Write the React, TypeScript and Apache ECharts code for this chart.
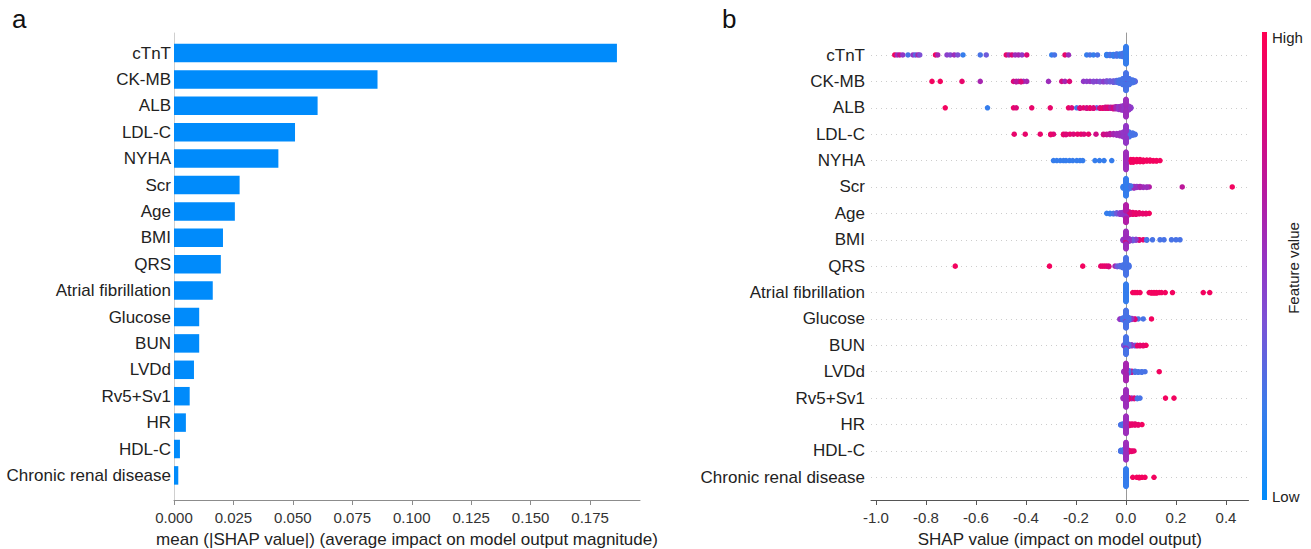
import React, { useEffect, useRef } from "react";
import * as echarts from "echarts";

// ---------------- data ----------------
const features = [
  "cTnT", "CK-MB", "ALB", "LDL-C", "NYHA", "Scr", "Age", "BMI", "QRS",
  "Atrial fibrillation", "Glucose", "BUN", "LVDd", "Rv5+Sv1", "HR", "HDL-C",
  "Chronic renal disease",
];
const meanAbsShap = [
  0.1863, 0.0856, 0.0604, 0.0509, 0.0439, 0.0276, 0.0256, 0.0206, 0.0197,
  0.0163, 0.0106, 0.0106, 0.0084, 0.0066, 0.005, 0.0025, 0.0018,
];
const barTicks = [0, 0.025, 0.05, 0.075, 0.1, 0.125, 0.15, 0.175];
const shapTicks = [-1.0, -0.8, -0.6, -0.4, -0.2, 0.0, 0.2, 0.4];

// beeswarm groups: [SHAP value, normalized feature value (0 low .. 1 high), number of dots]
const cTnT = [
  [-0.925, 0.95, 1], [-0.915, 0.55, 1], [-0.905, 0.75, 1], [-0.893, 0.5, 1], [-0.872, 0.2, 1],
  [-0.852, 0.5, 1], [-0.842, 0.25, 1], [-0.832, 0.6, 1], [-0.825, 0.35, 1],
  [-0.762, 0.95, 1], [-0.753, 0.6, 1],
  [-0.716, 0.45, 1], [-0.703, 0.4, 1], [-0.687, 0.55, 1], [-0.673, 0.35, 1], [-0.652, 0.15, 1],
  [-0.583, 0.2, 1], [-0.559, 0.3, 1],
  [-0.479, 0.9, 1], [-0.468, 0.6, 1], [-0.456, 0.85, 1], [-0.443, 0.55, 1], [-0.43, 0.6, 1],
  [-0.416, 0.5, 1], [-0.397, 0.85, 1],
  [-0.297, 0.15, 1], [-0.286, 0.2, 1],
  [-0.244, 0.9, 1], [-0.23, 0.55, 1],
  [-0.157, 0.15, 1], [-0.144, 0.2, 1], [-0.13, 0.15, 1], [-0.114, 0.2, 1],
  [-0.077, 0.15, 3], [-0.064, 0.2, 3], [-0.05, 0.15, 4], [-0.037, 0.2, 5], [-0.024, 0.15, 5],
  [-0.013, 0.2, 7], [0, 0.15, 34],
];
const ckmb = [
  [-0.776, 0.95, 1], [-0.743, 0.95, 1], [-0.656, 0.9, 1], [-0.583, 0.6, 1],
  [-0.45, 0.85, 1], [-0.439, 0.7, 2], [-0.43, 0.6, 1], [-0.42, 0.85, 2], [-0.41, 0.55, 1], [-0.397, 0.6, 1],
  [-0.31, 0.55, 1],
  [-0.257, 0.8, 1], [-0.244, 0.6, 1], [-0.226, 0.85, 1],
  [-0.17, 0.5, 1], [-0.157, 0.45, 1], [-0.144, 0.5, 1], [-0.13, 0.4, 2], [-0.117, 0.45, 1],
  [-0.104, 0.35, 2], [-0.09, 0.45, 2], [-0.077, 0.35, 3], [-0.064, 0.3, 3], [-0.05, 0.3, 4],
  [-0.037, 0.25, 5], [-0.027, 0.2, 8], [-0.013, 0.2, 14], [0, 0.2, 34], [0, 0.5, 6],
  [0.013, 0.2, 14], [0.027, 0.2, 7], [0.036, 0.25, 3],
];
const alb = [
  [-0.723, 0.95, 1], [-0.554, 0.15, 1], [-0.45, 0.9, 1], [-0.439, 0.85, 1], [-0.377, 0.9, 1], [-0.303, 0.9, 1],
  [-0.23, 0.9, 1], [-0.217, 0.85, 1], [-0.197, 0.2, 1], [-0.184, 0.85, 2], [-0.17, 0.9, 1],
  [-0.157, 0.8, 2], [-0.144, 0.9, 2], [-0.13, 0.85, 2], [-0.117, 0.3, 1], [-0.104, 0.85, 2],
  [-0.093, 0.9, 2], [-0.082, 0.8, 3], [-0.072, 0.85, 3], [-0.061, 0.7, 3], [-0.05, 0.8, 4],
  [-0.04, 0.6, 5], [-0.029, 0.5, 6], [-0.019, 0.55, 8], [-0.009, 0.5, 10], [0, 0.55, 34],
  [0.011, 0.5, 8], [0.019, 0.45, 3],
];
const ldlc = [
  [-0.447, 0.9, 1], [-0.403, 0.9, 1], [-0.343, 0.9, 1], [-0.301, 0.9, 2], [-0.29, 0.85, 1],
  [-0.25, 0.9, 2], [-0.24, 0.85, 2], [-0.224, 0.9, 1], [-0.21, 0.85, 1], [-0.194, 0.9, 1],
  [-0.18, 0.9, 1], [-0.168, 0.85, 1], [-0.15, 0.9, 1], [-0.12, 0.8, 1], [-0.09, 0.8, 2],
  [-0.077, 0.75, 2], [-0.064, 0.7, 3], [-0.05, 0.6, 3], [-0.037, 0.55, 4], [-0.024, 0.55, 6],
  [-0.011, 0.5, 10], [0, 0.5, 34], [0.013, 0.2, 10], [0.027, 0.2, 5], [0.036, 0.2, 2],
];
const nyha = [
  [-0.29, 0.15, 1], [-0.277, 0.15, 1], [-0.263, 0.15, 1], [-0.25, 0.15, 1], [-0.24, 0.15, 1],
  [-0.226, 0.15, 1], [-0.213, 0.15, 1], [-0.197, 0.15, 1], [-0.184, 0.15, 1], [-0.173, 0.15, 1],
  [-0.124, 0.15, 1], [-0.106, 0.15, 1], [-0.088, 0.15, 1], [-0.057, 0.15, 1],
  [0, 0.55, 34],
  [0.019, 0.95, 6], [0.029, 0.95, 6], [0.043, 0.95, 5], [0.056, 0.95, 5], [0.069, 0.95, 4],
  [0.083, 0.95, 3], [0.096, 0.95, 3], [0.109, 0.95, 2], [0.122, 0.95, 2], [0.136, 0.95, 1],
];
const scr = [
  [-0.011, 0.15, 4], [0, 0.15, 34], [0.009, 0.2, 8], [0.019, 0.2, 5], [0.032, 0.55, 4],
  [0.043, 0.5, 3], [0.056, 0.6, 3], [0.069, 0.55, 2], [0.083, 0.55, 2], [0.093, 0.65, 1],
  [0.225, 0.7, 1], [0.425, 0.95, 1],
];
const age = [
  [-0.077, 0.15, 1], [-0.064, 0.15, 2], [-0.05, 0.2, 2], [-0.037, 0.3, 3], [-0.024, 0.45, 4],
  [-0.013, 0.5, 6], [0, 0.65, 30], [0, 0.5, 10], [0.013, 0.85, 7], [0.027, 0.9, 5], [0.04, 0.9, 4],
  [0.053, 0.9, 3], [0.067, 0.9, 2], [0.08, 0.9, 2], [0.093, 0.95, 1],
];
const bmi = [
  [-0.011, 0.5, 4], [0, 0.55, 30], [0, 0.8, 8], [0.013, 0.5, 6], [0.027, 0.3, 4], [0.04, 0.45, 3],
  [0.053, 0.85, 2], [0.069, 0.9, 1], [0.083, 0.2, 2], [0.106, 0.2, 1], [0.136, 0.2, 1],
  [0.152, 0.2, 1], [0.182, 0.2, 1], [0.2, 0.2, 1], [0.216, 0.2, 1],
];
const qrs = [
  [-0.683, 0.95, 1], [-0.306, 0.95, 1], [-0.173, 0.95, 1], [-0.101, 0.9, 1], [-0.093, 0.9, 1],
  [-0.085, 0.9, 1], [-0.077, 0.9, 1], [-0.069, 0.85, 2], [-0.044, 0.6, 1], [-0.035, 0.3, 2],
  [-0.024, 0.25, 3], [-0.013, 0.2, 6], [0, 0.2, 34], [0.011, 0.2, 5],
];
const atrialFib = [
  [0, 0.15, 34], [0.027, 0.95, 1], [0.036, 0.95, 1], [0.045, 0.95, 1], [0.056, 0.95, 1],
  [0.093, 0.95, 1], [0.102, 0.95, 2], [0.112, 0.95, 2], [0.122, 0.95, 2], [0.133, 0.95, 1],
  [0.142, 0.95, 1], [0.157, 0.95, 1], [0.186, 0.95, 1], [0.309, 0.95, 1], [0.335, 0.95, 1],
];
const glucose = [
  [-0.024, 0.5, 2], [-0.013, 0.2, 5], [0, 0.2, 34], [0, 0.5, 6], [0.011, 0.2, 7], [0.023, 0.5, 3],
  [0.036, 0.85, 2], [0.049, 0.2, 1], [0.069, 0.2, 1], [0.102, 0.95, 1],
];
const bun = [
  [-0.008, 0.3, 3], [0, 0.2, 28], [0, 0.5, 8], [0.011, 0.25, 5], [0.023, 0.5, 3], [0.036, 0.25, 2],
  [0.045, 0.9, 2], [0.056, 0.9, 2], [0.069, 0.9, 2], [0.08, 0.95, 1],
];
const lvdd = [
  [-0.008, 0.55, 3], [0, 0.6, 34], [0.011, 0.2, 5], [0.023, 0.75, 3], [0.036, 0.2, 3],
  [0.049, 0.2, 2], [0.063, 0.2, 2], [0.076, 0.2, 1], [0.133, 0.95, 1],
];
const rv5sv1 = [
  [-0.011, 0.55, 3], [0, 0.55, 34], [0.011, 0.85, 4], [0.023, 0.55, 2], [0.033, 0.85, 2],
  [0.045, 0.2, 2], [0.056, 0.2, 1], [0.158, 0.95, 1], [0.192, 0.95, 1],
];
const hr = [
  [-0.021, 0.2, 2], [-0.013, 0.2, 4], [0, 0.55, 34], [0.013, 0.9, 4], [0.024, 0.9, 3],
  [0.036, 0.9, 3], [0.049, 0.9, 2], [0.064, 0.95, 1],
];
const hdlc = [
  [-0.021, 0.2, 3], [-0.011, 0.2, 5], [0, 0.55, 34], [0.011, 0.9, 4], [0.023, 0.9, 2], [0.032, 0.9, 1],
];
const chronicRenal = [
  [0, 0.15, 34], [0.027, 0.95, 1], [0.043, 0.95, 1], [0.053, 0.95, 2], [0.064, 0.95, 1],
  [0.076, 0.95, 1], [0.112, 0.95, 1],
];
const swarmRows = [
  cTnT, ckmb, alb, ldlc, nyha, scr, age, bmi, qrs, atrialFib, glucose, bun, lvdd, rv5sv1, hr, hdlc, chronicRenal,
];

const cmapStops = [
  { offset: 0, color: "#ff0052" },
  { offset: 0.2, color: "#d8097c" },
  { offset: 0.35, color: "#b51aa2" },
  { offset: 0.5, color: "#9236c6" },
  { offset: 0.62, color: "#7b52d6" },
  { offset: 0.8, color: "#3b7bea" },
  { offset: 1, color: "#008bfb" },
];

// SHAP-style beeswarm layout (deterministic binning, like shap.summary_plot)
function swarm(groups: number[][], row: number): number[][] {
  const dots: { s: number; c: number }[] = [];
  const maxN = Math.max(...groups.map((g) => g[2]));
  for (let k = 0; k < maxN; k++) {
    for (const g of groups) if (k < g[2]) dots.push({ s: g[0], c: g[1] });
  }
  const sv = dots.map((d) => d.s);
  const mn = Math.min(...sv);
  const mx = Math.max(...sv);
  const nbins = 100;
  const quant = dots.map((d) => Math.round((nbins * (d.s - mn)) / (mx - mn + 1e-8)));
  const idx = dots.map((_, i) => i).sort((a, b) => quant[a] - quant[b] || a - b);
  const ys = new Array(dots.length).fill(0);
  let layer = 0;
  let last = -1;
  for (const i of idx) {
    if (quant[i] !== last) layer = 0;
    ys[i] = Math.ceil(layer / 2) * ((layer % 2) * 2 - 1);
    layer++;
    last = quant[i];
  }
  const m = Math.max(...ys.map((y) => y + 1));
  const sc = (0.9 * 0.4) / m;
  return dots.map((d, i) => [d.s, row + ys[i] * sc, d.c]);
}

export default function App() {
  const ref = useRef<HTMLDivElement>(null);
  useEffect(() => {
    if (!ref.current) return;
    const chart = echarts.init(ref.current, null, { renderer: "svg" });
    const font = "Liberation Sans, Arial, sans-serif";
    const scatterData: number[][] = [];
    swarmRows.forEach((g, i) => scatterData.push(...swarm(g, i)));

    const rowTop = -0.833;
    const rowBottom = 16.86;

    const option: any = {
      animation: false,
      textStyle: { fontFamily: font },
      grid: [
        { left: 174, width: 466, top: 39.8, height: 448.8, containLabel: false, outerBoundsMode: "none" },
        { left: 174, width: 466, top: 33, height: 467, containLabel: false, outerBoundsMode: "none" },
        { left: 871, width: 377.5, top: 33, height: 467, containLabel: false, outerBoundsMode: "none" },
        { left: 871, width: 377.5, top: 55, height: 422.3, containLabel: false, outerBoundsMode: "none" },
      ],
      xAxis: [
        { gridIndex: 0, type: "value", min: 0, max: 0.196, show: false },
        {
          gridIndex: 1, type: "value", min: 0, max: 0.196,
          axisLine: { show: true, onZero: false, lineStyle: { color: "#8c8c8c", width: 1 } },
          axisTick: { show: true, length: 5, customValues: barTicks, lineStyle: { color: "#8c8c8c" } },
          axisLabel: {
            show: true, customValues: barTicks, margin: 10, fontSize: 15, color: "#333",
            fontFamily: font, formatter: (v: number) => v.toFixed(3),
          },
          splitLine: { show: false },
          name: "mean (|SHAP value|) (average impact on model output magnitude)",
          nameLocation: "middle", nameGap: 31,
          nameTextStyle: { fontSize: 17, color: "#222", fontFamily: font },
        },
        {
          gridIndex: 2, type: "value", min: -1.02, max: 0.49,
          axisLine: { show: true, onZero: false, lineStyle: { color: "#555", width: 1 } },
          axisTick: { show: true, length: 5, customValues: shapTicks, lineStyle: { color: "#555" } },
          axisLabel: {
            show: true, customValues: shapTicks, margin: 10, fontSize: 15, color: "#333",
            fontFamily: font, formatter: (v: number) => v.toFixed(1),
          },
          splitLine: { show: false },
          name: "SHAP value (impact on model output)",
          nameLocation: "middle", nameGap: 31,
          nameTextStyle: { fontSize: 17, color: "#222", fontFamily: font },
        },
        { gridIndex: 3, type: "value", min: -1.02, max: 0.49, show: false },
      ],
      yAxis: [
        {
          gridIndex: 0, type: "category", data: features, inverse: true,
          axisLine: { show: false }, axisTick: { show: false }, splitLine: { show: false },
          axisLabel: { fontSize: 17, color: "#222", margin: 3, fontFamily: font, interval: 0 },
        },
        {
          gridIndex: 1, type: "value", min: 0, max: 1,
          axisLine: { show: true, onZero: false, lineStyle: { color: "#cfcfcf" } },
          axisTick: { show: false }, axisLabel: { show: false }, splitLine: { show: false },
        },
        {
          gridIndex: 2, type: "value", min: rowTop, max: rowBottom, inverse: true,
          axisLine: { show: true, onZero: true, lineStyle: { color: "#999" } },
          axisTick: { show: false }, axisLabel: { show: false }, splitLine: { show: false },
        },
        {
          gridIndex: 3, type: "category", data: features, inverse: true, boundaryGap: false,
          axisLine: { show: false }, axisTick: { show: false },
          splitLine: { show: true, lineStyle: { color: "#cccccc", type: [1, 4], width: 1 } },
          axisLabel: { fontSize: 17, color: "#222", margin: 6, fontFamily: font, interval: 0 },
        },
      ],
      visualMap: {
        show: false, type: "continuous", dimension: 2, min: 0, max: 1, seriesIndex: 1,
        inRange: { color: cmapStops.map((s) => s.color).reverse() },
      },
      series: [
        {
          type: "bar", xAxisIndex: 0, yAxisIndex: 0, data: meanAbsShap,
          barWidth: 18.5, itemStyle: { color: "#008bfb" },
        },
        {
          type: "scatter", xAxisIndex: 2, yAxisIndex: 2, data: scatterData,
          symbolSize: 5.5, itemStyle: { opacity: 1 },
        },
      ],
      graphic: [
        { type: "text", left: 12, top: 6, style: { text: "a", fontSize: 26, fill: "#111", fontFamily: font } },
        { type: "text", left: 722, top: 6, style: { text: "b", fontSize: 26, fill: "#111", fontFamily: font } },
        {
          type: "rect", shape: { x: 1262, y: 32, width: 5, height: 468 },
          style: { fill: { type: "linear", x: 0, y: 0, x2: 0, y2: 1, colorStops: cmapStops } },
        },
        {
          type: "text", x: 1272, y: 37,
          style: { text: "High", fontSize: 15, fill: "#222", fontFamily: font, verticalAlign: "middle", align: "left" },
        },
        {
          type: "text", x: 1272, y: 496,
          style: { text: "Low", fontSize: 15, fill: "#222", fontFamily: font, verticalAlign: "middle", align: "left" },
        },
        {
          type: "text", x: 1293, y: 268, rotation: Math.PI / 2,
          style: { text: "Feature value", fontSize: 15, fill: "#222", fontFamily: font, verticalAlign: "middle", align: "center" },
        },
      ],
    };
    chart.setOption(option);
    return () => chart.dispose();
  }, []);
  return (
    <div
      ref={ref}
      style={{ position: "absolute", left: 0, top: 0, width: 1311, height: 549, background: "#fff" }}
    />
  );
}
